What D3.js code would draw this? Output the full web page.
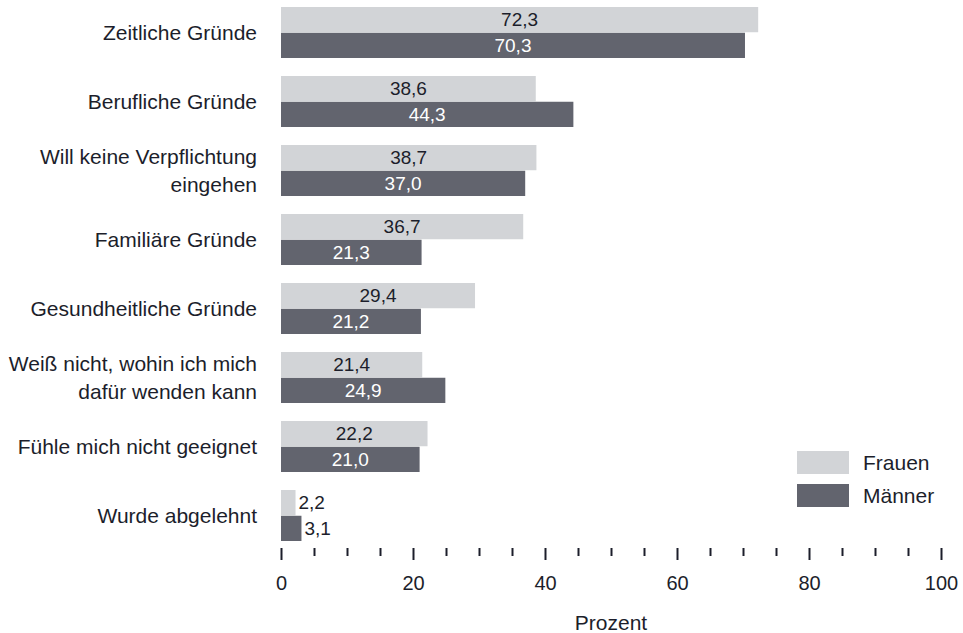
<!DOCTYPE html>
<html><head><meta charset="utf-8">
<script src="https://cdn.jsdelivr.net/npm/d3@7"></script>
<style>body{margin:0;background:#fff;} svg{display:block;font-family:"Liberation Sans",Arial,sans-serif;}</style>
</head><body>
<svg id="chart" width="963" height="633"></svg>
<script>
const categories = [
  ["Zeitliche Gründe"],
  ["Berufliche Gründe"],
  ["Will keine Verpflichtung", "eingehen"],
  ["Familiäre Gründe"],
  ["Gesundheitliche Gründe"],
  ["Weiß nicht, wohin ich mich", "dafür wenden kann"],
  ["Fühle mich nicht geeignet"],
  ["Wurde abgelehnt"]
];
const seriesNames = ["Frauen", "Männer"];
const frauen = [72.3, 38.6, 38.7, 36.7, 29.4, 21.4, 22.2, 2.2];
const maenner = [70.3, 44.3, 37.0, 21.3, 21.2, 24.9, 21.0, 3.1];
const majorTicks = [0, 20, 40, 60, 80, 100];
const axisTitle = "Prozent";

const colors = {"Frauen": "#d2d4d7", "Männer": "#62646e"};
const labelColors = {"Frauen": "#1c1e2b", "Männer": "#ffffff"};
const textColor = "#1c1e2b";
const fmt = v => d3.format(".1f")(v).replace(".", ",");

const svg = d3.select("#chart");
const catKeys = categories.map(c => c.join(" "));
const x = d3.scaleLinear().domain([0, 100]).range([281, 941]);
const y = d3.scaleBand().domain(catKeys).range([7, 541]).paddingInner(0.261).paddingOuter(0);
const ys = d3.scaleBand().domain(seriesNames).range([0, y.bandwidth()]).paddingInner(0.02);

const data = seriesNames.map((s, si) => ({name: s, values: si === 0 ? frauen : maenner}));

// bars
data.forEach(s => {
  const g = svg.append("g");
  g.selectAll("rect").data(s.values).join("rect")
    .attr("x", x(0))
    .attr("y", (d, i) => y(catKeys[i]) + ys(s.name))
    .attr("width", d => x(d) - x(0))
    .attr("height", ys.bandwidth())
    .attr("fill", colors[s.name]);
  g.selectAll("text").data(s.values).join("text")
    .attr("x", d => d < 5 ? x(d) + 3 : (x(0) + x(d)) / 2)
    .attr("y", (d, i) => y(catKeys[i]) + ys(s.name) + ys.bandwidth() / 2)
    .attr("dy", "0.36em")
    .attr("text-anchor", d => d < 5 ? "start" : "middle")
    .attr("fill", d => d < 5 ? textColor : labelColors[s.name])
    .style("font-size", "19px")
    .text(d => fmt(d));
});

// category labels
categories.forEach((lines, i) => {
  const cy = y(catKeys[i]) + y.bandwidth() / 2;
  const t = svg.append("text")
    .attr("text-anchor", "end")
    .attr("fill", textColor)
    .style("font-size", "21px");
  lines.forEach((l, j) => {
    t.append("tspan")
      .attr("x", 257)
      .attr("y", cy + (j - (lines.length - 1) / 2) * 28)
      .attr("dy", "0.36em")
      .text(l);
  });
});

// axis
const axisY = 548;
const minorTicks = d3.range(0, 101, 5).filter(v => !majorTicks.includes(v));
const axisG = svg.append("g").attr("transform", `translate(0,${axisY})`);
axisG.call(d3.axisBottom(x).tickValues(minorTicks).tickSize(8).tickFormat(""))
  .call(g => g.select(".domain").remove())
  .call(g => g.selectAll("line").attr("stroke", textColor).attr("stroke-width", 2));
const axisG2 = svg.append("g").attr("transform", `translate(0,${axisY})`);
axisG2.call(d3.axisBottom(x).tickValues(majorTicks).tickSize(12).tickPadding(16).tickFormat(d3.format("d")))
  .call(g => g.select(".domain").remove())
  .call(g => g.selectAll("line").attr("stroke", textColor).attr("stroke-width", 2))
  .call(g => g.selectAll("text").attr("fill", textColor).style("font-size", "20px").style("font-family", "Liberation Sans, Arial, sans-serif"));

svg.append("text")
  .attr("x", (x(0) + x(100)) / 2)
  .attr("y", 622)
  .attr("dy", "0.36em")
  .attr("text-anchor", "middle")
  .attr("fill", textColor)
  .style("font-size", "21px")
  .text(axisTitle);

// legend
const legend = svg.append("g").attr("transform", "translate(797,451)");
seriesNames.forEach((s, i) => {
  legend.append("rect").attr("x", 0).attr("y", i * 33).attr("width", 52).attr("height", 23).attr("fill", colors[s]);
  legend.append("text").attr("x", 66).attr("y", i * 33 + 11.5).attr("dy", "0.36em")
    .attr("fill", textColor).style("font-size", "21px").text(s);
});
</script>
</body></html>
